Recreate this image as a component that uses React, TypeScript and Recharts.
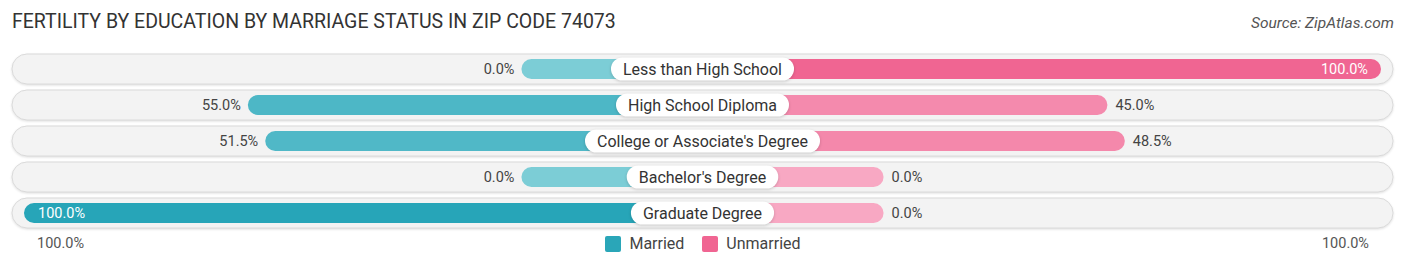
import { Bar, BarChart, Cell, LabelList, XAxis, YAxis } from "recharts";

const categories = [
  "Less than High School",
  "High School Diploma",
  "College or Associate's Degree",
  "Bachelor's Degree",
  "Graduate Degree",
];
const married = [0.0, 55.0, 51.5, 0.0, 100.0];
const unmarried = [100.0, 45.0, 48.5, 0.0, 0.0];

// bars start behind the centre pill, so every bar gets a constant lead-in
const LEAD = 36.4;
const FONT = "Roboto, 'Noto Sans', sans-serif";

const data = categories.map((name, i) => ({
  name,
  married: married[i],
  unmarried: unmarried[i],
  marriedBar: -(LEAD + married[i]),
  unmarriedBar: LEAD + unmarried[i],
}));

const mix = (a: number[], b: number[], t: number) =>
  `rgb(${a.map((v, k) => Math.round(v + (b[k] - v) * t)).join(",")})`;
const marriedColor = (v: number) => mix([124, 205, 214], [39, 165, 184], v / 100);
const unmarriedColor = (v: number) => mix([248, 168, 195], [240, 101, 146], v / 100);

let ctx: CanvasRenderingContext2D | null = null;
function textWidth(s: string, font: string) {
  if (!ctx) ctx = document.createElement("canvas").getContext("2d");
  if (!ctx) return s.length * 8;
  ctx.font = font;
  return ctx.measureText(s).width;
}

const fmt = (v: number) => `${v.toFixed(1)}%`;

function Track(props: any) {
  const { x, y, width, height } = props;
  return (
    <rect
      x={x - 12}
      y={y - 5}
      width={width + 24}
      height={height + 10}
      rx={15}
      fill="#f3f3f3"
      stroke="#dadada"
      strokeWidth={1}
      style={{ filter: "drop-shadow(0 1px 1px rgba(0,0,0,0.12))" }}
    />
  );
}

function MarriedValue(props: any) {
  const { x, y, width, height, value } = props;
  const left = Math.min(x, x + width);
  const full = value >= 100;
  return (
    <text
      x={full ? left + 14 : left - 7}
      y={y + height / 2}
      dy="0.35em"
      textAnchor={full ? "start" : "end"}
      fontSize={14.5}
      fontFamily={FONT}
      fill={full ? "#ffffff" : "#444444"}
    >
      {fmt(value)}
    </text>
  );
}

function UnmarriedValue(props: any) {
  const { x, y, width, height, value } = props;
  const right = Math.max(x, x + width);
  const full = value >= 100;
  return (
    <text
      x={full ? right - 13 : right + 8}
      y={y + height / 2}
      dy="0.35em"
      textAnchor={full ? "end" : "start"}
      fontSize={14.5}
      fontFamily={FONT}
      fill={full ? "#ffffff" : "#444444"}
    >
      {fmt(value)}
    </text>
  );
}

function NamePill(props: any) {
  const { x, y, height, value } = props;
  const cy = y + height / 2;
  const w = textWidth(String(value), `16px ${FONT}`) + 24;
  return (
    <g>
      <rect
        x={x - w / 2}
        y={cy - 11.5}
        width={w}
        height={23}
        rx={11.5}
        fill="#ffffff"
        style={{ filter: "drop-shadow(0 1px 1.5px rgba(0,0,0,0.18))" }}
      />
      <text x={x} y={cy} dy="0.35em" textAnchor="middle" fontSize={16} fontFamily={FONT} fill="#333333">
        {value}
      </text>
    </g>
  );
}

export default function App() {
  return (
    <div style={{ position: "absolute", left: 0, top: 0, width: 1406, height: 269, background: "#fff", fontFamily: FONT }}>
      <div style={{ position: "absolute", left: 12, top: 10, fontSize: 19.5, color: "#333" }}>
        FERTILITY BY EDUCATION BY MARRIAGE STATUS IN ZIP CODE 74073
      </div>
      <div style={{ position: "absolute", right: 12, top: 14, fontSize: 15.5, fontStyle: "italic", color: "#555" }}>
        Source: ZipAtlas.com
      </div>

      <BarChart
        width={1406}
        height={269}
        data={data}
        layout="vertical"
        stackOffset="sign"
        barSize={20}
        margin={{ top: 51, right: 25, bottom: 38, left: 24 }}
      >
        <XAxis type="number" hide domain={[-(100 + LEAD), 100 + LEAD]} />
        <YAxis type="category" dataKey="name" hide />
        <Bar dataKey="marriedBar" stackId="a" radius={10} background={Track} isAnimationActive={false}>
          {data.map((d) => (
            <Cell key={d.name} fill={marriedColor(d.married)} />
          ))}
          <LabelList dataKey="married" content={MarriedValue} />
        </Bar>
        <Bar dataKey="unmarriedBar" stackId="a" radius={10} isAnimationActive={false}>
          {data.map((d) => (
            <Cell key={d.name} fill={unmarriedColor(d.unmarried)} />
          ))}
          <LabelList dataKey="unmarried" content={UnmarriedValue} />
          <LabelList dataKey="name" content={NamePill} />
        </Bar>
      </BarChart>

      <div style={{ position: "absolute", left: 37, top: 235, fontSize: 14.5, color: "#555" }}>100.0%</div>
      <div style={{ position: "absolute", right: 37, top: 235, fontSize: 14.5, color: "#555" }}>100.0%</div>

      <div
        style={{
          position: "absolute",
          top: 234,
          left: 0,
          width: 1406,
          display: "flex",
          justifyContent: "center",
          gap: 18,
          fontSize: 16,
          color: "#444",
        }}
      >
        {[
          { label: "Married", color: "#2aa6b8" },
          { label: "Unmarried", color: "#f06592" },
        ].map((item) => (
          <div key={item.label} style={{ display: "flex", alignItems: "center", gap: 8 }}>
            <span style={{ width: 16, height: 16, borderRadius: 2, background: item.color, display: "inline-block" }} />
            <span>{item.label}</span>
          </div>
        ))}
      </div>
    </div>
  );
}
